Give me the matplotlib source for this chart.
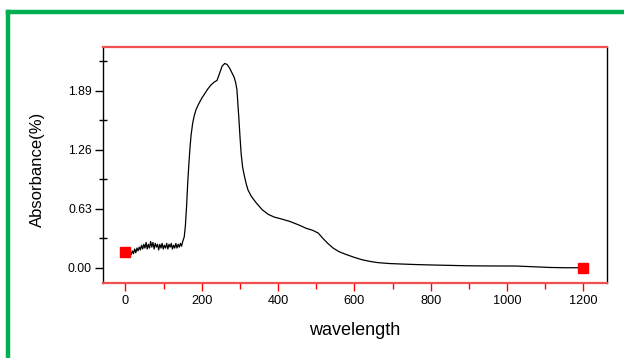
import numpy as np
import matplotlib
matplotlib.use("Agg")
import matplotlib.pyplot as plt
from matplotlib.lines import Line2D

plt.rcParams['font.family'] = ['Liberation Sans', 'DejaVu Sans']

# noisy baseline 0..150 nm (every 3 nm), then the absorption band
wl_noise = list(range(0, 151, 3))
ab_noise = [0.17, 0.12, 0.16, 0.13, 0.17, 0.14, 0.18, 0.15, 0.20, 0.16, 0.21,
            0.18, 0.22, 0.19, 0.24, 0.20, 0.25, 0.21, 0.27, 0.20, 0.25, 0.21,
            0.28, 0.22, 0.27, 0.20, 0.26, 0.22, 0.25, 0.19, 0.25, 0.21, 0.26,
            0.20, 0.24, 0.21, 0.26, 0.20, 0.25, 0.22, 0.26, 0.20, 0.24, 0.21,
            0.26, 0.21, 0.25, 0.22, 0.26, 0.23, 0.28]
wl_band = [154, 157, 160, 163, 166, 169, 172, 176, 180, 185, 192, 200, 208,
           216, 224, 232, 240, 247, 253, 260, 266, 273, 279, 285, 289, 292,
           294, 297, 300, 303, 307, 311, 316, 321, 330, 343, 358, 374, 390,
           409, 430, 452, 474, 490, 505, 518, 530, 544, 560, 579, 600, 620,
           640, 660, 690, 720, 760, 806, 850, 893, 950, 1024, 1060, 1111,
           1150, 1200]
ab_band = [0.33, 0.45, 0.65, 0.90, 1.10, 1.28, 1.42, 1.54, 1.62, 1.69, 1.75,
           1.81, 1.86, 1.91, 1.95, 1.98, 2.00, 2.08, 2.15, 2.18, 2.17, 2.13,
           2.08, 2.03, 1.97, 1.90, 1.78, 1.60, 1.40, 1.22, 1.07, 0.99, 0.90,
           0.83, 0.76, 0.69, 0.62, 0.57, 0.54, 0.52, 0.495, 0.46, 0.42, 0.40,
           0.37, 0.31, 0.26, 0.21, 0.17, 0.14, 0.11, 0.085, 0.068, 0.055,
           0.045, 0.04, 0.034, 0.029, 0.025, 0.021, 0.019, 0.018, 0.012,
           0.003, 0.0, 0.0]

wl = wl_noise + wl_band
ab = ab_noise + ab_band

yticks = [0.00, 0.63, 1.26, 1.89]
yminor = [0.315, 0.945, 1.575, 2.205]
xticks = [0, 200, 400, 600, 800, 1000, 1200]
xminor = [100, 300, 500, 700, 900, 1100]

fig = plt.figure(figsize=(6.24, 3.58), dpi=100)
ax = fig.add_axes([0.165, 0.2095, 0.808, 0.6595])

ax.plot(wl, ab, color='black', lw=0.9)
# end point markers
ax.plot([wl[0], wl[-1]], [ab[0], ab[-1]], 's', color='red', ms=6.5, mec='red')

ax.set_xlim(-59, 1262)
ax.set_ylim(-0.163, 2.357)

ax.set_xticks(xticks)
ax.set_xticks(xminor, minor=True)
ax.set_yticks(yticks)
ax.set_yticklabels([f"{v:.2f}" for v in yticks])
ax.set_yticks(yminor, minor=True)

ax.tick_params(axis='x', which='both', colors='red', labelcolor='black',
               direction='out', width=1, labelsize=9.2, pad=3)
ax.tick_params(axis='x', which='major', length=6)
ax.tick_params(axis='x', which='minor', length=4)
ax.tick_params(axis='y', which='major', direction='out', length=6, width=1,
               labelsize=8.8, pad=2)
ax.tick_params(axis='y', which='minor', direction='inout', length=6, width=1)

for s in ['top', 'bottom']:
    ax.spines[s].set_color('#f05050')
    ax.spines[s].set_linewidth(1.6)
for s in ['left', 'right']:
    ax.spines[s].set_color('black')
    ax.spines[s].set_linewidth(1.0)

ax.set_xlabel('wavelength', fontsize=13)
ax.xaxis.set_label_coords(0.5, -0.165)
ax.set_ylabel('Absorbance(%)', fontsize=12)
ax.yaxis.set_label_coords(-0.115, 0.483)

# green frame of the slide
fig.add_artist(Line2D([0.0135, 0.0135], [0, 0.966], color='#00b050', lw=3.2,
                      transform=fig.transFigure))
fig.add_artist(Line2D([0.0135, 1.0], [0.966, 0.966], color='#00b050', lw=3.2,
                      transform=fig.transFigure, solid_capstyle='projecting'))

fig.savefig('out.png', dpi=100)
